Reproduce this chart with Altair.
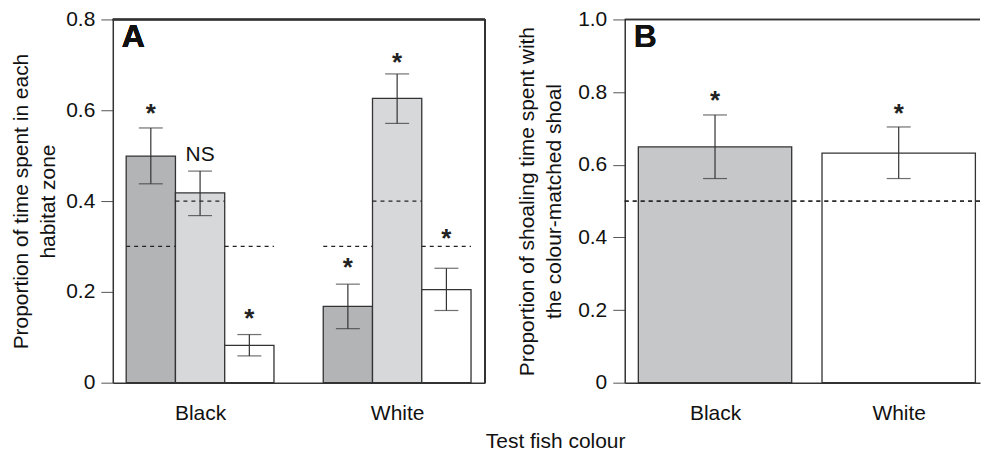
import altair as alt
import pandas as pd

# ---------------- data ----------------
groups = ["Black", "White"]
zones = ["Black zone", "Grey zone", "White zone"]
zone_colors = ["#b3b4b6", "#d7d8da", "#ffffff"]

# Panel A: proportion of time in each habitat zone
a_mean_black = [0.499, 0.418, 0.082]
a_lo_black = [0.438, 0.368, 0.059]
a_hi_black = [0.561, 0.466, 0.106]
a_mean_white = [0.168, 0.626, 0.205]
a_lo_white = [0.119, 0.571, 0.159]
a_hi_white = [0.217, 0.680, 0.252]
a_expected = [0.3, 0.4, 0.3]
a_sig_black = ["*", "NS", "*"]
a_sig_white = ["*", "*", "*"]
a_sig_y_black = [0.593, 0.500, 0.143]
a_sig_y_white = [0.254, 0.707, 0.318]

# Panel B: proportion of shoaling time with colour-matched shoal
b_mean = [0.649, 0.632]
b_lo = [0.562, 0.562]
b_hi = [0.737, 0.704]
b_sig = ["*", "*"]
b_sig_y = [0.777, 0.741]
b_expected = 0.5
b_colors = ["#c6c7c9", "#ffffff"]

# ---------------- layout constants ----------------
BW_A = 0.25
XDOM_A = [-0.443, 1.446]
BW_B = 0.835
XDOM_B = [-0.4915, 1.4426]
W_A, W_B, H = 373, 356, 364
INK = "#333333"
FRAME_W = 1.5
FONT = "Liberation Sans"

rows = []
for gi, (g, m, lo, hi, sg, sy) in enumerate([
    ("Black", a_mean_black, a_lo_black, a_hi_black, a_sig_black, a_sig_y_black),
    ("White", a_mean_white, a_lo_white, a_hi_white, a_sig_white, a_sig_y_white),
]):
    for zi, z in enumerate(zones):
        c = gi + (zi - 1) * BW_A
        rows.append(dict(group=g, zone=z, x=c, x0=c - BW_A / 2, x1=c + BW_A / 2,
                         mean=m[zi], lo=lo[zi], hi=hi[zi], exp=a_expected[zi],
                         sig=sg[zi], sig_y=sy[zi]))
dfA = pd.DataFrame(rows)

dfB = pd.DataFrame(dict(group=groups, x=[0, 1],
                        x0=[i - BW_B / 2 for i in range(2)],
                        x1=[i + BW_B / 2 for i in range(2)],
                        mean=b_mean, lo=b_lo, hi=b_hi, sig=b_sig, sig_y=b_sig_y))

label_expr_x = f"{groups}[datum.value]"
label_expr_y = "datum.value == 0 ? '0' : format(datum.value, '.1f')"


def panel(df, xdom, ymax, ytitle, fill_field, fill_dom, fill_rng, letter, expected_rule, title_pad):
    xs = alt.Scale(domain=xdom, nice=False, zero=False)
    ys = alt.Scale(domain=[0, ymax], nice=False, zero=False)
    yvals = [round(v * 0.2, 1) for v in range(int(round(ymax / 0.2)) + 1)]
    xaxis = alt.Axis(values=[0, 1], labelExpr=label_expr_x, ticks=False, grid=False,
                     labelPadding=20, title=None)
    yaxis = alt.Axis(values=yvals, labelExpr=label_expr_y, grid=False, title=ytitle,
                     titlePadding=title_pad, labelPadding=6)

    def X(f):
        return alt.X(f, scale=xs, axis=xaxis)

    def Y(f):
        return alt.Y(f, scale=ys, axis=yaxis)

    base = alt.Chart(df)
    bars = base.mark_bar(stroke=INK, strokeWidth=1.3).encode(
        x=X("x0:Q"),
        x2="x1:Q",
        y=Y("mean:Q"),
        y2=alt.datum(0),
        fill=alt.Fill(f"{fill_field}:N", scale=alt.Scale(domain=fill_dom, range=fill_rng), legend=None),
    )
    err = base.mark_rule(color=INK, strokeWidth=1.2).encode(x=X("x:Q"), y=Y("lo:Q"), y2="hi:Q")
    cap_hi = base.mark_tick(orient="horizontal", size=24, thickness=1.2, color=INK).encode(x=X("x:Q"), y=Y("hi:Q"))
    cap_lo = base.mark_tick(orient="horizontal", size=24, thickness=1.2, color=INK).encode(x=X("x:Q"), y=Y("lo:Q"))
    stars = base.transform_filter("datum.sig == '*'").mark_text(
        font=FONT, fontSize=26, fontWeight="bold", baseline="alphabetic", dy=9, color="#222222"
    ).encode(x=X("x:Q"), y=Y("sig_y:Q"), text="sig:N")
    ns = base.transform_filter("datum.sig != '*'").mark_text(
        font=FONT, fontSize=21, baseline="alphabetic", dy=5, color="#111111"
    ).encode(x=X("x:Q"), y=Y("sig_y:Q"), text="sig:N")
    top = base.mark_rule(color=INK, strokeWidth=FRAME_W).encode(y=alt.datum(ymax, scale=ys, axis=yaxis))
    let = base.mark_text(text=letter, font=FONT, fontSize=32, fontWeight="bold", align="left",
                         baseline="top", dx=9, dy=3, color="#111111").encode(
        x=alt.datum(xdom[0], scale=xs, axis=xaxis), y=alt.datum(ymax, scale=ys, axis=yaxis))
    layers = [bars, expected_rule(base, X, Y, ys, yaxis), err, cap_hi, cap_lo, stars, ns, top, let]
    return layers, xs, xaxis


def exp_a(base, X, Y, ys, yaxis):
    return base.mark_rule(color="#222222", strokeWidth=1.2, strokeDash=[4, 4]).encode(
        x=X("x0:Q"), x2="x1:Q", y=Y("exp:Q"))


def exp_b(base, X, Y, ys, yaxis):
    return base.mark_rule(color="#222222", strokeWidth=1.2, strokeDash=[4, 4]).encode(
        y=alt.datum(b_expected, scale=ys, axis=yaxis))


layersA, xsA, xaxA = panel(dfA, XDOM_A, 0.8, ["Proportion of time spent in each", "habitat zone"],
                           "zone", zones, zone_colors, "A", exp_a, 7)
rightA = alt.Chart(dfA).mark_rule(color=INK, strokeWidth=FRAME_W).encode(
    x=alt.datum(XDOM_A[1], scale=xsA, axis=xaxA))
chartA = alt.layer(*layersA, rightA).properties(width=W_A, height=H)

layersB, xsB, xaxB = panel(dfB, XDOM_B, 1.0, ["Proportion of shoaling time spent with", "the colour-matched shoal"],
                           "group", groups, b_colors, "B", exp_b, 13)
chartB = alt.layer(*layersB).properties(width=W_B, height=H)

chart = alt.hconcat(chartA, chartB, spacing=30).resolve_scale(fill="independent").properties(
    title=alt.TitleParams("Test fish colour", orient="bottom", anchor="middle", dx=60,
                          fontSize=21, fontWeight="normal", font=FONT, color="#111111", offset=7)
).configure(
    font=FONT, padding={"left": 2, "top": 0, "right": 0, "bottom": 0}
).configure_view(stroke=None).configure_axis(
    domainColor=INK, domainWidth=FRAME_W, tickColor="#555555", tickWidth=1, tickSize=12,
    labelFont=FONT, labelFontSize=21, labelColor="#111111",
    titleFont=FONT, titleFontSize=21, titleFontWeight="normal", titleColor="#111111",
    titleLineHeight=27
)

chart.save("out.html", embed_options={"renderer": "svg", "actions": False})
